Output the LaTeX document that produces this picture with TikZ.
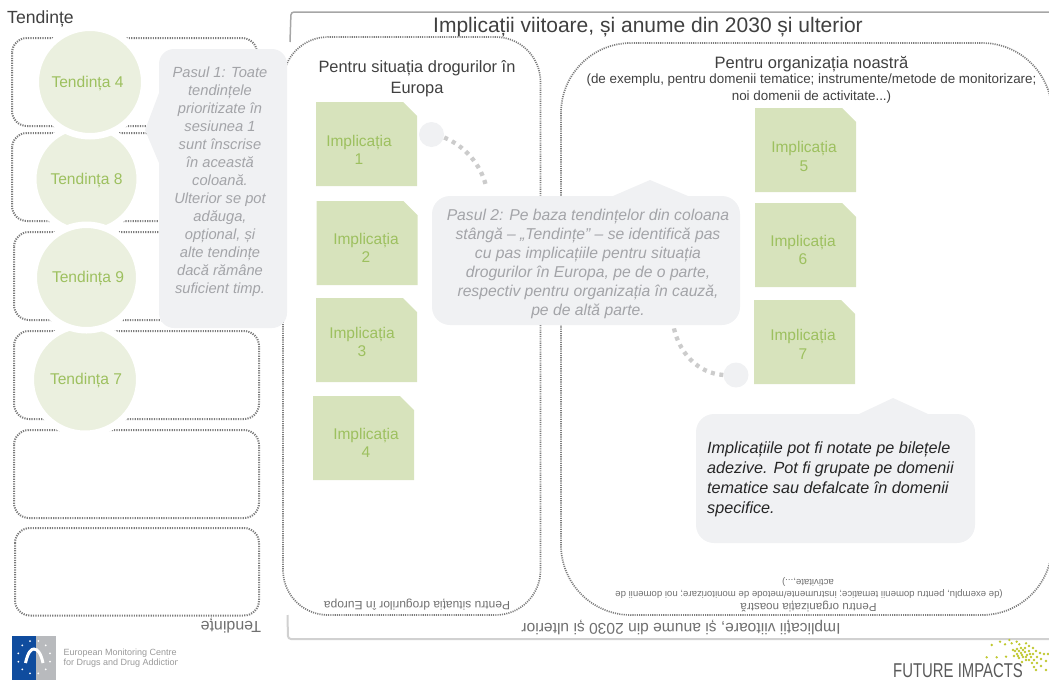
\documentclass[tikz,border=0pt]{standalone}
\usepackage{fontspec}
\setmainfont{Liberation Sans}
\definecolor{notefill}{HTML}{D7E3BC}
\definecolor{notetext}{HTML}{9DC05F}
\definecolor{circfill}{HTML}{EBF0DF}
\definecolor{callfill}{HTML}{F0F1F3}
\definecolor{calltext}{HTML}{A3A4A8}
\definecolor{dots}{HTML}{7C7C7C}
\definecolor{dark}{HTML}{404040}
\definecolor{flag}{HTML}{0F4C9E}
\definecolor{flaggray}{HTML}{B8BABD}
\definecolor{spark}{HTML}{BFC82F}
\newcommand{\fsz}[2]{\fontsize{#1}{#2}\selectfont}
\tikzset{
  dotbox/.style={draw=dots,line width=2pt,dash pattern=on 1.2pt off 1.2pt,rounded corners=15pt},
  bigbox/.style={draw=dots,line width=1.7pt,dash pattern=on 1.1pt off 1.1pt},
  trend/.style={circle,fill=circfill,draw=white,line width=6.5pt,inner sep=0pt},
  trendlabel/.style={inner sep=0pt,text=notetext,font=\fsz{15.6}{18}},
  callshape/.style={fill=callfill},
  calllabel/.style={align=center,text=calltext,inner sep=0pt,font=\fsz{14.7}{18}\itshape},
  linkdot/.style={circle,fill=callfill,inner sep=0pt,minimum size=25pt},
  linkline/.style={draw=black!20,line width=4.3pt,dash pattern=on 4pt off 4.6pt},
  notelabel/.style={align=center,text=notetext,inner sep=0pt,font=\fsz{15.5}{18.5}},
  head/.style={text=dark,inner sep=0pt,align=center},
  flip/.style={text=dark!75,inner sep=0pt,rotate=180},
}
\begin{document}
\begin{tikzpicture}[x=1pt,y=-1pt]
\useasboundingbox (0,0) rectangle (1049,681);
% frame lines
\draw[black!35,line width=1.5pt,rounded corners=3pt] (290,42) -- (291,12) -- (1052,12);
\draw[black!18,line width=2pt,rounded corners=3pt] (287.5,615) -- (288,639) -- (1052,639);
% dotted boxes
\draw[dotbox] (12,38) rectangle (257,126);
\draw[dotbox] (12,133) rectangle (257,221);
\draw[dotbox] (14,232) rectangle (259,320);
\draw[dotbox] (14,331) rectangle (259,419);
\draw[dotbox] (14,430) rectangle (259,518);
\draw[dotbox] (15,528) rectangle (259,615.5);
\draw[bigbox,rounded corners=45pt] (283,37) rectangle (540.5,615);
\draw[bigbox,rounded corners=70pt] (561,43) rectangle (1052,615);
% trend circles
\node[trend,minimum size=106.5pt] (t8) at (86.5,179) {};
\node[trend,minimum size=108.5pt] (t7) at (85,379.5) {};
\node[trend,minimum size=108.5pt] (t4) at (90,82) {};
\node[trend,minimum size=105.5pt] (t9) at (86.5,277.5) {};
\node[trendlabel] (lt4) at (87.5,83.5) {Tendința 4};
\node[trendlabel] (lt8) at (86.5,180.5) {Tendința 8};
\node[trendlabel] (lt9) at (88,278.7) {Tendința 9};
\node[trendlabel] (lt7) at (86,380.5) {Tendința 7};
% sticky notes
\foreach \x/\y/\lx/\ly/\n in {316/102/359/150/1,316.5/201/366/248/2,316/298/362/342/3,313/396/366/443/4,755/108/804/156.5/5,755/203/803/250/6,754/300/803/344.5/7}{
  \fill[notefill] (\x,\y) -- ++(87,0) -- ++(14,14) -- ++(0,70) -- ++(-101,0) -- cycle;
  \node[notelabel] (imp\n) at (\lx,\ly) {Implicația\\\n};
}
% headings
\node[head,anchor=west,font=\fsz{17.6}{20}] (htrend) at (7,18.5) {Tendințe};
\node[head,font=\fsz{21}{24}] (htitle) at (648,27) {Implicații viitoare, și anume din 2030 și ulterior};
\node[head,font=\fsz{16.4}{20.5}] (heur) at (417,78.5) {Pentru situația drogurilor în\\Europa};
\node[head,font=\fsz{16.5}{18}] (horg) at (811.5,64.5) {Pentru organizația noastră};
\node[head,font=\fsz{13.4}{17}] (horgsub) at (811.5,88.5) {(de exemplu, pentru domenii tematice; instrumente/metode de monitorizare;\\noi domenii de activitate...)};
% mirrored texts
\node[flip,font=\fsz{16}{18}] (ftrend) at (231,626) {Tendințe};
\node[flip,font=\fsz{15.6}{18}] (ftitle) at (681,627.5) {Implicații viitoare, și anume din 2030 și ulterior};
\node[flip,font=\fsz{12}{14}] (feur) at (417,604.5) {Pentru situația drogurilor în Europa};
\node[flip,font=\fsz{11.6}{14}] (forg) at (808.5,606.5) {Pentru organizația noastră};
\node[flip,font=\fsz{9.6}{11}] (fsub) at (809,593.5) {(de exemplu, pentru domenii tematice; instrumente/metode de monitorizare; noi domenii de};
\node[flip,font=\fsz{9.6}{11}] (fsub2) at (808,582) {activitate,...)};
% link circles and dotted links
\node[linkdot] (c1) at (431.5,134.5) {};
\node[linkdot] (c2) at (736,375) {};
\coordinate (e1) at (486,186);
\coordinate (e2) at (673,324);
\draw[linkline] (c1.east) ++(0,3) .. controls (465,146) and (481,165) .. (e1);
\draw[linkline] (c2.west) .. controls (697,373) and (678,352) .. (e2);
% callouts
\fill[callshape] (159,93) -- (145,130) -- (159,163) -- cycle;
\fill[callshape,rounded corners=15pt] (159,49) rectangle (287,328);
\node[calllabel] (step1) at (220,182) {Pasul 1: Toate\\tendințele\\prioritizate în\\sesiunea 1\\sunt înscrise\\în această\\coloană.\\Ulterior se pot\\adăuga,\\opțional, și\\alte tendințe\\dacă rămâne\\suficient timp.};
\fill[callshape] (613,196) -- (650,180) -- (688,196) -- cycle;
\fill[callshape,rounded corners=18pt] (432,196) rectangle (740,325);
\node[calllabel,font=\fsz{15.7}{19}\itshape] (step2) at (588,264) {Pasul 2: Pe baza tendințelor din coloana\\stângă – „Tendințe” – se identifică pas\\cu pas implicațiile pentru situația\\drogurilor în Europa, pe de o parte,\\respectiv pentru organizația în cauză,\\pe de altă parte.};
\fill[callshape] (859,414) -- (893,398) -- (928,414) -- cycle;
\fill[callshape,rounded corners=18pt] (696,414) rectangle (975,543);
\node[calllabel,align=left,anchor=west,text=black!85,font=\fsz{16.2}{20}\itshape] (note) at (707,479.5) {Implicațiile pot fi notate pe bilețele\\adezive. Pot fi grupate pe domenii\\tematice sau defalcate în domenii\\specifice.};
% EMCDDA logo
\fill[flag] (12,636) rectangle (36,680);
\fill[flaggray] (36,636) rectangle (55.5,680);
\foreach \a/\b in {22.3/645.3,30/641,38.3/641,45.7/645.3,50/653.3,50/661.7,45.7/669.3,38.3/673.3,30/673.3,22.3/669.3,18.3/661.7,18.3/653.3}
  \fill[white] (\a,\b) circle (1pt);
\draw[white,line width=3pt] (25.5,663) .. controls (28,652) and (31,649) .. (34,649) .. controls (38,649) and (41,654) .. (43,663);
\begin{scope}
\clip (60,640) rectangle (177.5,672);
\node[anchor=west,inner sep=0pt,text=black!40,font=\fsz{9}{10.2},align=left] (emcdda) at (63.5,658) {European Monitoring Centre\\for Drugs and Drug Addiction};
\end{scope}
% Future impacts logo
\node[anchor=west,inner sep=0pt,text=black!65] (fi) at (893,671) {\scalebox{0.745}[1]{\fsz{20}{22}FUTURE IMPACTS}};
\foreach \a/\b in {991.7/645,1000/641.7,1005/644.3,1009.3/640,1011.7/643.3,1016.7/641.7,1019.3/644.3,1026/643.3,986.7/657.3,996.7/657.3,1006/656.7,1013/650,1017/649,1021/648,1025/648,1029/646,1033/648,1036/651,1040/653,1044/654,1048/654,1017/654,1021/653,1025/652,1029/651,1033/654,1037/657,1041/659,1046/661,1019/658,1023/657,1027/655,1031/657,1034/660,1037/663,1041/666,1046/670,1022/662,1026/660,1029/660,1032/663,1034/667,1036/670,1015/651,1019/651,1023/650,1014/656,1018/656,1022/655,1026/657,1030/654}
  \fill[spark] (\a,\b) circle (1.3pt);
\end{tikzpicture}
\end{document}
